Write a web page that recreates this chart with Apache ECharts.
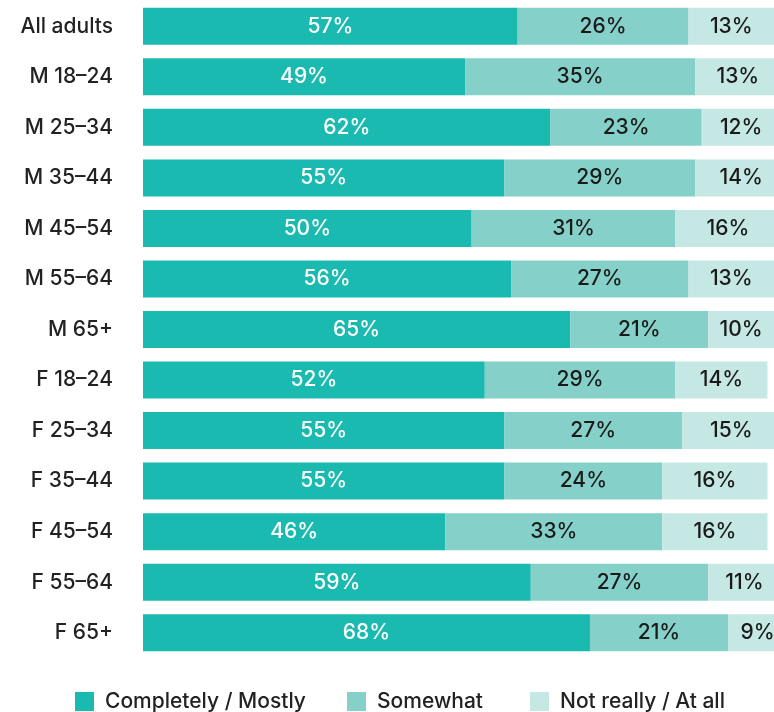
<!DOCTYPE html>
<html>
<head>
<meta charset="utf-8">
<style>
  html, body { margin: 0; padding: 0; background: #ffffff; }
  #chart { width: 774px; height: 712px; }
</style>
<script src="https://cdn.jsdelivr.net/npm/echarts@6/dist/echarts.min.js"></script>
</head>
<body>
<div id="chart"></div>
<script>
const categories = [
  'All adults', 'M 18\u201324', 'M 25\u201334', 'M 35\u201344', 'M 45\u201354', 'M 55\u201364', 'M 65+',
  'F 18\u201324', 'F 25\u201334', 'F 35\u201344', 'F 45\u201354', 'F 55\u201364', 'F 65+'
];
const seriesNames = ['Completely / Mostly', 'Somewhat', 'Not really / At all'];
const completelyMostly = [57, 49, 62, 55, 50, 56, 65, 52, 55, 55, 46, 59, 68];
const somewhat        = [26, 35, 23, 29, 31, 27, 21, 29, 27, 24, 33, 27, 21];
const notReally       = [13, 13, 12, 14, 16, 13, 10, 14, 15, 16, 16, 11, 9];

const colors = ['#1bbab1', '#85d1c9', '#c5e8e4'];
const labelColors = ['#ffffff', '#1a1a1a', '#1a1a1a'];
const fontFamily = 'Inter, "Open Sans", sans-serif';
const legendLefts = [75, 347, 530];

const chart = echarts.init(document.getElementById('chart'), null, { renderer: 'canvas' });

const makeSeries = (name, data, i) => ({
  name: name,
  type: 'bar',
  stack: 'total',
  data: data,
  barWidth: 37,
  clip: false,
  itemStyle: { color: colors[i] },
  emphasis: { disabled: true },
  label: {
    show: true,
    position: 'inside',
    formatter: p => p.value + '%',
    color: labelColors[i],
    fontFamily: fontFamily,
    fontSize: 21,
    fontWeight: 500
  }
});

chart.setOption({
  animation: false,
  backgroundColor: '#ffffff',
  // the plot runs past the right edge, so the visible scale stops at 96
  grid: { left: 143, right: 0, top: 1, bottom: 54, containLabel: false },
  xAxis: {
    type: 'value',
    min: 0,
    max: 96,
    show: false
  },
  yAxis: {
    type: 'category',
    data: categories,
    inverse: true,
    axisLine: { show: false },
    axisTick: { show: false },
    axisLabel: {
      color: '#222222',
      fontFamily: fontFamily,
      fontSize: 21,
      fontWeight: 500,
      margin: 30
    }
  },
  legend: seriesNames.map((name, i) => ({
    left: legendLefts[i],
    top: 691,
    padding: 0,
    itemWidth: 19,
    itemHeight: 19,
    icon: 'rect',
    textStyle: { color: '#222222', fontFamily: fontFamily, fontSize: 21, fontWeight: 500, padding: [0, 0, 0, 6] },
    data: [name]
  })),
  series: [
    makeSeries(seriesNames[0], completelyMostly, 0),
    makeSeries(seriesNames[1], somewhat, 1),
    makeSeries(seriesNames[2], notReally, 2)
  ]
});
</script>
</body>
</html>
